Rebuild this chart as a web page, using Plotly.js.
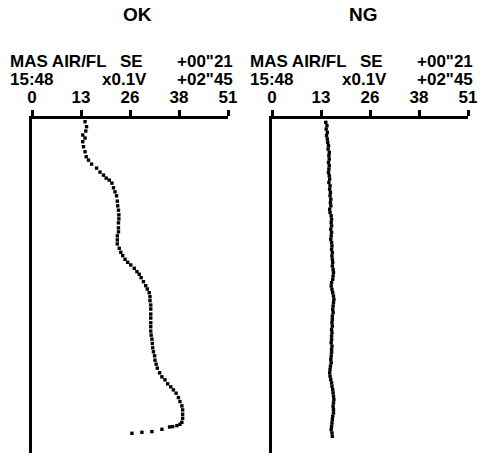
<!DOCTYPE html>
<html>
<head>
<meta charset="utf-8">
<script src="https://cdn.plot.ly/plotly-3.0.1.min.js"></script>
<style>html,body{margin:0;padding:0;background:#fff;}#chart{width:496px;height:462px;}</style>
</head>
<body>
<div id="chart"></div>
<script>
// Panel titles and header text
const panelTitles = ["OK", "NG"];
const headerRow1 = ["MAS AIR/FL", "SE", "+00\"21"];
const headerRow2 = ["15:48", "x0.1V", "+02\"45"];

// Value scale (x0.1V): quarter divisions of full scale 51, labelled rounded
const tickVals = [0, 12.75, 25.5, 38.25, 51];
const tickText = ["0", "13", "26", "38", "51"];

// OK trace: time position (0 = top of record, 100 = bottom) and value
const okTime = [0.8,2.3,3.6,4.8,5.7,6.8,8.3,9.8,11.3,12.3,13.5,14.7,15.9,16.8,17.7,18.3,19.2,20.6,21.8,23.0,24.6,26.0,27.3,28.7,29.9,31.1,32.6,33.8,35.0,36.2,37.4,38.7,39.9,40.9,42.0,42.9,43.7,44.7,45.7,46.5,47.5,48.7,49.9,50.9,52.0,53.2,54.4,55.7,56.9,58.4,59.6,61.0,62.2,63.5,64.7,65.9,67.2,68.5,69.7,70.9,72.2,73.4,74.6,76.0,77.2,78.1,79.3,80.2,81.1,82.1,83.4,84.6,85.9,87.1,88.4,89.6,90.8,91.4,91.8,92.1,92.2,92.9,93.6,93.8,94.1];
const okValue = [13.8,14.2,14.0,13.2,13.8,13.2,13.4,13.8,14.1,14.7,15.5,16.8,17.7,18.6,19.3,20.1,20.8,21.2,21.6,22.0,22.2,22.3,22.5,22.6,22.6,22.5,22.5,22.5,22.2,22.2,22.2,22.7,23.1,23.6,24.2,24.9,25.7,26.6,27.3,27.9,28.4,29.0,29.6,30.0,30.5,30.7,30.7,30.9,30.9,30.9,30.9,30.9,30.9,30.9,31.0,31.2,31.3,31.4,31.6,31.9,32.0,32.3,32.6,33.2,33.8,34.6,35.3,36.1,36.8,37.5,38.1,38.5,39.0,39.2,39.2,39.2,39.0,38.5,37.7,36.6,35.8,33.8,31.2,28.6,26.0];

// NG trace: one sample per time unit
const ngTime = [1,2,3,4,5,6,7,8,9,10,11,12,13,14,15,16,17,18,19,20,21,22,23,24,25,26,27,28,29,30,31,32,33,34,35,36,37,38,39,40,41,42,43,44,45,46,47,48,49,50,51,52,53,54,55,56,57,58,59,60,61,62,63,64,65,66,67,68,69,70,71,72,73,74,75,76,77,78,79,80,81,82,83,84,85,86,87,88,89,90,91,92,93,94,95];
const ngValue = [14.0,14.3,14.1,14.4,14.2,14.4,14.5,14.7,14.6,14.9,14.8,14.9,14.7,14.9,14.8,14.7,14.9,15.0,14.8,15.1,15.0,15.2,15.1,15.3,15.2,15.3,15.0,15.1,15.4,15.5,15.4,15.5,15.3,15.5,15.4,15.3,15.5,15.6,15.5,15.7,15.6,15.7,15.8,15.7,15.9,16.0,15.9,15.8,15.5,15.4,15.6,15.8,16.0,16.1,16.0,15.9,15.8,15.9,15.7,15.7,15.6,15.7,15.5,15.6,15.5,15.5,15.4,15.6,15.5,15.5,15.4,15.3,15.4,15.2,15.1,15.0,15.1,15.3,15.5,15.6,15.8,15.9,16.0,16.1,16.0,15.9,16.0,16.0,15.8,15.7,15.6,15.5,15.4,15.6,15.7];

const W = 496, H = 462;
const px = x => x / W;
const py = y => 1 - y / H;
const FAM = "Liberation Sans, Arial, Helvetica, sans-serif";
const FONT = {family: FAM, color: "#000", size: 17};

const marker = {symbol: "square", size: 3.4, color: "#000", line: {width: 0}};
const data = [
  {x: okValue, y: okTime, xaxis: "x", yaxis: "y", mode: "markers", type: "scatter", marker: marker, hoverinfo: "skip"},
  {x: ngValue, y: ngTime, xaxis: "x2", yaxis: "y2", mode: "markers", type: "scatter", marker: marker, hoverinfo: "skip"}
];

function xAx(dom, anchor) {
  return {domain: dom, anchor: anchor, side: "top", range: [0, 51], tickvals: tickVals, ticktext: tickText,
    ticks: "outside", ticklen: 6, tickwidth: 3, tickcolor: "#000", showline: true, linewidth: 3.5, linecolor: "#000",
    showgrid: false, zeroline: false, tickfont: {family: FAM, size: 17, color: "#000", weight: "bold"}, fixedrange: true};
}
function yAx(anchor) {
  return {domain: [py(453), py(119)], anchor: anchor, range: [100, 0], showline: true, linewidth: 3.5, linecolor: "#000",
    showgrid: false, zeroline: false, ticks: "", showticklabels: false, fixedrange: true};
}

const annotations = [];
const titlePos = [137.5, 363.5];
panelTitles.forEach((t, i) => {
  annotations.push({text: t, x: px(titlePos[i]), y: py(15), xref: "paper", yref: "paper", xanchor: "center", yanchor: "middle",
    showarrow: false, font: {family: FAM, size: 19, color: "#000", weight: "bold"}});
});
[0, 240].forEach(dx => {
  const f = {family: FAM, size: 17, color: "#000", weight: "bold"};
  const add = (text, x, y, anchor) => annotations.push({text: text, x: px(x + dx), y: py(y), xref: "paper", yref: "paper",
    xanchor: anchor, yanchor: "middle", showarrow: false, font: f});
  add(headerRow1[0], 8, 61, "left");
  add(headerRow1[1], 118, 61, "left");
  add(headerRow1[2], 235, 61, "right");
  add(headerRow2[0], 8, 79, "left");
  add(headerRow2[1], 149, 79, "right");
  add(headerRow2[2], 235, 79, "right");
});

const layout = {
  width: W, height: H, margin: {l: 0, r: 0, t: 0, b: 0}, showlegend: false,
  paper_bgcolor: "#fff", plot_bgcolor: "#fff", font: FONT,
  xaxis: xAx([px(32), px(228)], "y"),
  yaxis: yAx("x"),
  xaxis2: xAx([px(272), px(468)], "y2"),
  yaxis2: yAx("x2"),
  annotations: annotations
};

Plotly.newPlot("chart", data, layout, {staticPlot: true, displayModeBar: false});
</script>
</body>
</html>
